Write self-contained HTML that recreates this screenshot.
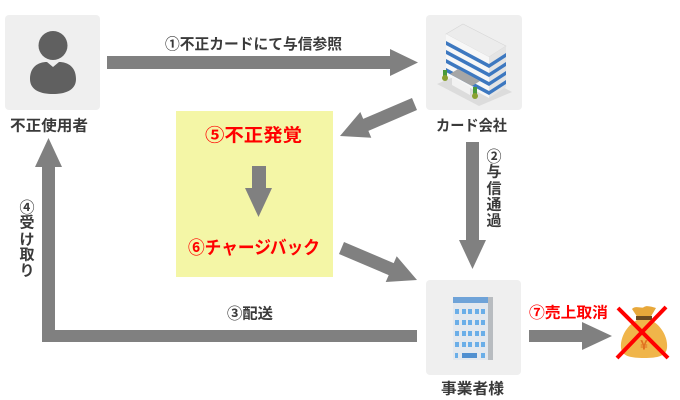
<!DOCTYPE html>
<html><head><meta charset="utf-8"><style>
html,body{margin:0;padding:0;background:#fff;}
svg{display:block;}
text{font-family:"Liberation Sans","Noto Sans CJK JP",sans-serif;font-weight:bold;}
.k{fill:#3a3a3a;font-size:15px;}
.r{fill:#ff0000;}
</style></head><body>
<svg width="680" height="400" viewBox="0 0 680 400" xmlns="http://www.w3.org/2000/svg">
<!-- boxes -->
<rect x="5" y="15" width="95" height="95" rx="4" fill="#efefef"/>
<rect x="426" y="15" width="96" height="95" rx="4" fill="#efefef"/>
<rect x="426" y="280" width="95" height="95" rx="4" fill="#efefef"/>
<rect x="176" y="111" width="157" height="166" fill="#f4f6a6"/>

<!-- person icon -->
<circle cx="53" cy="45.5" r="14.5" fill="#606060"/>
<path d="M30,79 C30,67 38,62 47,62 L53,67 L59,62 C68,62 76,67 76,79 C76,91 64,94 53,94 C42,94 30,91 30,79 Z" fill="#606060"/>

<!-- card company building -->
<polygon points="437,84 470,70 512,92 479,106" fill="#dcdcdc"/>
<polygon points="446,34 463,24 506,46 489,57" fill="#ececec" stroke="#d6d6d6" stroke-width="0.6"/>
<polygon points="446,34 489,57 489,98 446,75" fill="#f7f7f7"/>
<polygon points="489,57 506,46 506,87 489,98" fill="#e4e4e4"/>
<g fill="#3d78c0">
<polygon points="446,41 489,64 489,68 446,45"/>
<polygon points="446,50 489,73 489,77 446,54"/>
<polygon points="446,59 489,82 489,86 446,63"/>
<polygon points="446,68 489,91 489,95 446,72"/>
<polygon points="489,64 506,53 506,57 489,68"/>
<polygon points="489,73 506,62 506,66 489,77"/>
<polygon points="489,82 506,71 506,75 489,86"/>
<polygon points="489,91 506,80 506,84 489,95"/>
</g>
<polygon points="450,74 472,86 480,81 458,69" fill="#a6a6a6"/>
<polygon points="452,77 470,87 470,95 452,85" fill="#f2f2f2"/>
<rect x="443" y="70" width="4" height="9" fill="#4a9a3a"/>
<circle cx="445" cy="78" r="3" fill="#8aa030"/>
<rect x="473" y="87" width="4" height="10" fill="#4a9a3a"/>
<circle cx="475" cy="96" r="3" fill="#8aa030"/>

<!-- business building -->
<rect x="453" y="297" width="40" height="63" fill="#e3e8ee"/>
<rect x="453" y="297" width="35" height="6" fill="#6fa3d8"/>
<rect x="488" y="297" width="5" height="63" fill="#b8bcc0"/>
<g fill="#6aaee8">
<rect x="455" y="309" width="4" height="5"/><rect x="462" y="309" width="4" height="5"/><rect x="468" y="309" width="4" height="5"/><rect x="475" y="309" width="4" height="5"/><rect x="481" y="309" width="4" height="5"/>
<rect x="455" y="320" width="4" height="5"/><rect x="462" y="320" width="4" height="5"/><rect x="468" y="320" width="4" height="5"/><rect x="475" y="320" width="4" height="5"/><rect x="481" y="320" width="4" height="5"/>
<rect x="455" y="331" width="4" height="5"/><rect x="462" y="331" width="4" height="5"/><rect x="468" y="331" width="4" height="5"/><rect x="475" y="331" width="4" height="5"/><rect x="481" y="331" width="4" height="5"/>
<rect x="455" y="342" width="4" height="5"/><rect x="462" y="342" width="4" height="5"/><rect x="468" y="342" width="4" height="5"/><rect x="475" y="342" width="4" height="5"/><rect x="481" y="342" width="4" height="5"/>
<rect x="455" y="353" width="3" height="5"/><rect x="462" y="353" width="15" height="5" fill="#4f8fd0"/><rect x="481" y="353" width="4" height="5"/>
</g>

<!-- arrows -->
<g fill="#808080">
<polygon points="107,56 390,56 390,49 418,62.5 390,76 390,69 107,69"/>
<polygon points="466,142 479,142 479,240 486,240 472.5,269 459,240 466,240"/>
<polygon points="252,166 266,166 266,188 272,188 258.5,217 245,188 252,188"/>
<polygon points="417,330 55,330 55,167 62,167 48.5,138 35,167 42,167 42,342 417,342"/>
<polygon points="529,330 582,330 582,322 612,336 582,350 582,342 529,342"/>
<polygon points="412,98 417,110 368.4,130.9 371.3,137.8 340,136 360.3,112 363.2,118.9"/>
<polygon points="344,242 339,254 388.7,275.1 385.7,282 417,280 396.7,256.2 393.7,263.1"/>
</g>

<!-- money bag -->
<path d="M632,309 C636,305 642,309 644,307 C647,305 652,307 656,308 L650,318 L638,318 Z" fill="#e8a83a"/>
<rect x="636" y="316" width="16" height="4" fill="#6b4a20"/>
<path d="M637,320 L651,320 C662,326 668,338 667,348 C666,356 658,358 644,358 C630,358 622,356 621,348 C620,338 626,326 637,320 Z" fill="#f0b54a"/>
<text x="644" y="344" font-size="13" fill="#e07020" text-anchor="middle" dominant-baseline="central" style="font-family:'Noto Sans CJK JP',sans-serif">¥</text>
<g stroke="#ff0000" stroke-width="4" stroke-linecap="butt">
<line x1="618" y1="308" x2="668" y2="358"/>
<line x1="666" y1="307" x2="617" y2="358"/>
</g>

<!-- labels -->
<text class="k" x="10" y="126" textLength="78" lengthAdjust="spacingAndGlyphs" dominant-baseline="central">不正使用者</text>
<text class="k" x="165" y="44.5" textLength="177" lengthAdjust="spacingAndGlyphs" dominant-baseline="central">①不正カードにて与信参照</text>
<text class="k" x="436" y="126" textLength="71" lengthAdjust="spacingAndGlyphs" dominant-baseline="central">カード会社</text>
<text class="k" x="441" y="389" textLength="63" lengthAdjust="spacingAndGlyphs" dominant-baseline="central">事業者様</text>
<text class="k" x="227" y="314" textLength="46" lengthAdjust="spacingAndGlyphs" dominant-baseline="central">③配送</text>
<text class="r" x="529" y="313" font-size="15" textLength="79" lengthAdjust="spacingAndGlyphs" dominant-baseline="central">⑦売上取消</text>
<text class="r" x="205" y="135.5" font-size="18" textLength="97" lengthAdjust="spacingAndGlyphs" dominant-baseline="central">⑤不正発覚</text>
<text class="r" x="188" y="248" font-size="18" textLength="132" lengthAdjust="spacingAndGlyphs" dominant-baseline="central">⑥チャージバック</text>

<g class="k" text-anchor="middle" dominant-baseline="central">
<text class="k" x="494" y="157" font-size="14">②</text>
<text class="k" x="494" y="172">与</text>
<text class="k" x="494" y="189">信</text>
<text class="k" x="494" y="205">通</text>
<text class="k" x="494" y="221">過</text>
<text class="k" x="27" y="208" font-size="14">④</text>
<text class="k" x="27" y="223">受</text>
<text class="k" x="27" y="240">け</text>
<text class="k" x="27" y="255">取</text>
<text class="k" x="27" y="271">り</text>
</g>
</svg>
</body></html>
